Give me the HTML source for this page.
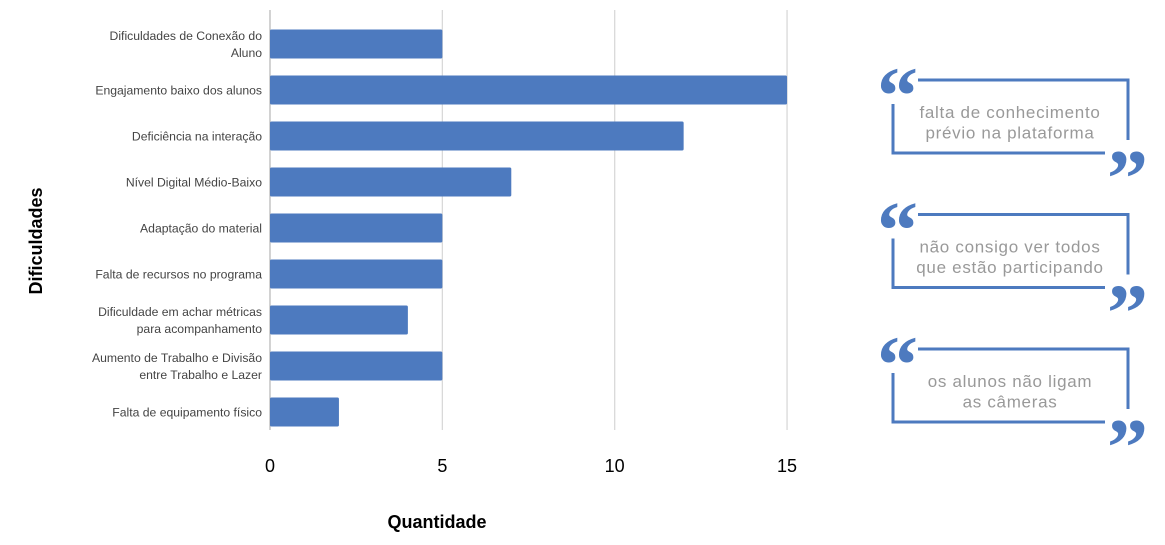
<!DOCTYPE html>
<html><head><meta charset="utf-8"><style>
html,body{margin:0;padding:0;background:#fff;width:1165px;height:545px;overflow:hidden}
svg{display:block;font-family:"Liberation Sans",Arial,sans-serif}
</style></head><body>
<svg id="chart" width="1165" height="545" xmlns="http://www.w3.org/2000/svg">
<g id="grid"></g>
<g id="bars"></g>
<g id="ylabels"></g>
<g id="xticks"></g>
<text transform="translate(42,241) rotate(-90)" text-anchor="middle" font-size="18" font-weight="bold" fill="#000">Dificuldades</text>
<text x="437" y="528" text-anchor="middle" font-size="18" font-weight="bold" fill="#000">Quantidade</text>
<g id="quotes"></g>
</svg>
<script>
const categories=[["Dificuldades de Conexão do","Aluno"],["Engajamento baixo dos alunos"],["Deficiência na interação"],["Nível Digital Médio-Baixo"],["Adaptação do material"],["Falta de recursos no programa"],["Dificuldade em achar métricas","para acompanhamento"],["Aumento de Trabalho e Divisão","entre Trabalho e Lazer"],["Falta de equipamento físico"]];
const values=[5,15,12,7,5,5,4,5,2];
const ticks=[0,5,10,15];
const quoteTexts=[["falta de conhecimento","prévio na plataforma"],["não consigo ver todos","que estão participando"],["os alunos não ligam","as câmeras"]];
const NS="http://www.w3.org/2000/svg";
const x0=270,pxPer=34.47,top0=21,band=46,barH=29;
const xs=v=>x0+v*pxPer;
const yc=i=>top0+band*i+band/2;
function mk(t,a,p){const e=document.createElementNS(NS,t);for(const k in a)e.setAttribute(k,a[k]);p.appendChild(e);return e;}
const grid=document.getElementById('grid'),bars=document.getElementById('bars'),yl=document.getElementById('ylabels'),xt=document.getElementById('xticks');
ticks.forEach(t=>{
 const l=mk('line',{x1:xs(t),x2:xs(t),y1:10,y2:430,stroke:t===0?'#bbb':'#d9d9d9','stroke-width':1.3},grid);
 
 
 const tx=mk('text',{x:xs(t),y:472,'text-anchor':'middle','font-size':18,fill:'#000'},xt);tx.textContent=t;
 
 
});
values.forEach((v,i)=>{
 const r=mk('rect',{x:x0,y:yc(i)-barH/2,width:xs(v)-x0,height:barH,fill:'#4d7abf',rx:1.5},bars);
 
 
 const lines=categories[i];
 lines.forEach((s,j)=>{
  const y=yc(i)+4.5+(j-(lines.length-1)/2)*17;
  const t=mk('text',{x:262,y:y,'text-anchor':'end','font-size':12.2,fill:'#444'},yl);t.textContent=s;
  
  
 });
});
const q=document.getElementById('quotes');
const c='#4d7abf';
quoteTexts.forEach((lines,k)=>{
 const dy=k*134.5;
 const g=mk('g',{transform:`translate(0,${dy})`},q);
 
 
 mk('path',{d:'M918 80 H1128 V140 M1105 153 H893 V104',fill:'none',stroke:c,'stroke-width':3},g);
 const o=mk('text',{x:877,y:123,'font-size':82,'font-weight':'bold',fill:c,'font-family':'Liberation Serif, serif'},g);o.textContent='\u201C';
 
 
 const cl=mk('text',{x:1107,y:206,'font-size':82,'font-weight':'bold',fill:c,'font-family':'Liberation Serif, serif'},g);cl.textContent='\u201D';
 
 
 lines.forEach((s,j)=>{
  const t=mk('text',{x:1010,y:118+j*20.5,'text-anchor':'middle','font-size':17,fill:'#999','letter-spacing':0.7},g);t.textContent=s;
  
  
 });
});
</script>
</body></html>
